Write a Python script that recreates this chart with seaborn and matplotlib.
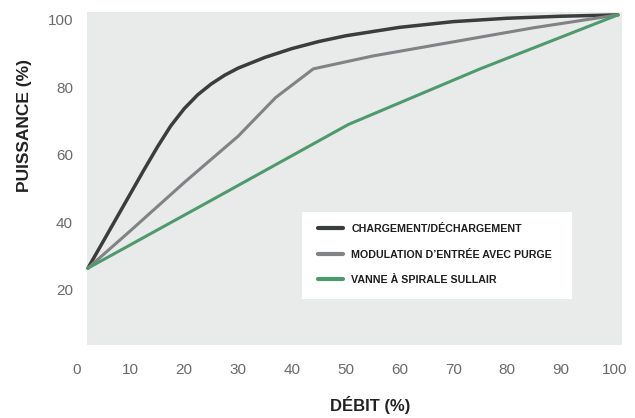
import matplotlib
matplotlib.use("Agg")
import matplotlib.pyplot as plt
import seaborn as sns
from matplotlib.patches import Rectangle

# values (débit %, puissance %)
charge_x = [2.1, 5, 7.5, 10, 12.5, 15, 17.5, 20, 22.5, 25, 27.5, 30, 35, 40, 45, 50, 60, 70, 80, 90, 100.6]
charge_y = [26.4, 34.5, 41.5, 48.5, 55.5, 62.3, 68.6, 73.7, 77.8, 81.0, 83.6, 85.7, 88.9, 91.5, 93.6, 95.3,
            97.8, 99.5, 100.5, 101.1, 101.5]

modul_x = [2.1, 10, 20, 30, 37, 44, 55, 70, 85, 100.6]
modul_y = [26.4, 37.5, 51.8, 65.5, 77.0, 85.5, 89.3, 93.5, 97.7, 101.5]

vanne_x = [2.1, 25, 50.5, 75, 100.6]
vanne_y = [26.4, 46.5, 69.0, 85.5, 101.5]

labels = ["CHARGEMENT/DÉCHARGEMENT", "MODULATION D\u2019ENTRÉE AVEC PURGE", "VANNE À SPIRALE SULLAIR"]
colors = ["#3b3d3d", "#808283", "#4f9a6d"]
x_ticks = [0, 10, 20, 30, 40, 50, 60, 70, 80, 90, 100]
y_ticks = [20, 40, 60, 80, 100]

sns.set_style("white")
plt.rcParams["font.family"] = ["Liberation Sans", "DejaVu Sans"]

fig = plt.figure(figsize=(6.35, 4.18), dpi=100)
ax = fig.add_axes([0.1181, 0.1373, 0.8753, 0.8392])
ax.set_facecolor("white")
ax.add_patch(Rectangle((1.9, 3.6), 99.5, 98.7, facecolor="#e9ebeb", edgecolor="none", zorder=0))

series = [(charge_x, charge_y, 2.5), (modul_x, modul_y, 2.2), (vanne_x, vanne_y, 2.2)]
for (xs, ys, lw), lab, col in zip(series, labels, colors):
    sns.lineplot(x=xs, y=ys, ax=ax, color=col, linewidth=lw, label=lab, sort=False,
                 solid_capstyle="round", solid_joinstyle="round", zorder=3)

ax.set_xlim(-0.3, 103)
ax.set_ylim(-1, 103)
ax.set_xticks(x_ticks)
ax.set_yticks(y_ticks)
ax.tick_params(length=0, labelsize=11, labelcolor="#6a6a6a", pad=1.5)
for s in ax.spines.values():
    s.set_visible(False)
ax.set_xlabel("")
ax.set_ylabel("")

fig.text(370 / 635, 1 - 405 / 418, "DÉBIT (%)", ha="center", va="center",
         fontsize=12, fontweight="bold", color="#222222")
fig.text(25 / 635, 1 - 125 / 418, "PUISSANCE (%)", ha="center", va="center",
         rotation=90, fontsize=12.5, fontweight="bold", color="#222222")

# legend box (white panel inside the grey area)
ax.add_patch(Rectangle((302 / 635, 1 - 299 / 418), 270 / 635, 87 / 418,
                       transform=fig.transFigure, facecolor="white", edgecolor="none", zorder=1))
leg = ax.legend(loc="upper left", bbox_to_anchor=(318 / 635, 1 - 224 / 418),
                bbox_transform=fig.transFigure, frameon=False, borderpad=0, borderaxespad=0,
                handlelength=2.3, handletextpad=0.8, labelspacing=1.45,
                prop={"size": 7.7, "weight": "bold"})
for t in leg.get_texts():
    t.set_color("#1e1e1e")
for h in leg.get_lines():
    h.set_linewidth(3.0)
leg.set_zorder(5)

fig.savefig("out.png", dpi=100)
